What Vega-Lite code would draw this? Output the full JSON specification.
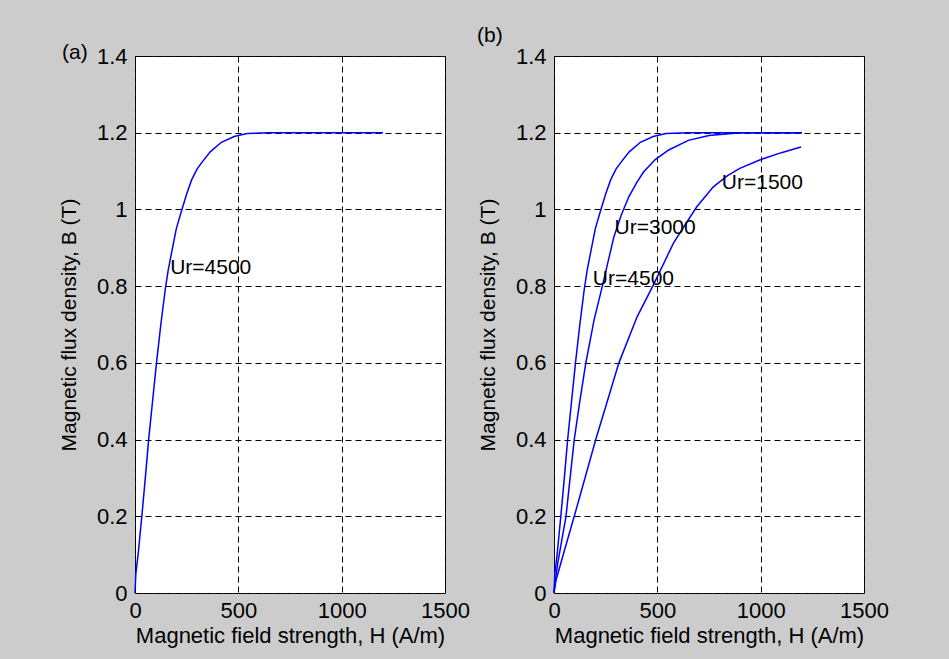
{
  "$schema": "https://vega.github.io/schema/vega-lite/v6.json",
  "background": "#cccccc",
  "padding": {"left": 57, "top": 24, "right": 80, "bottom": 30},
  "datasets": {
    "curves": [
      {"ur": 4500, "H": 0, "B": 0}, {"ur": 4500, "H": 4, "B": 0.05}, {"ur": 4500, "H": 15, "B": 0.1}, {"ur": 4500, "H": 33, "B": 0.2},
      {"ur": 4500, "H": 50, "B": 0.3}, {"ur": 4500, "H": 66, "B": 0.4}, {"ur": 4500, "H": 85, "B": 0.5}, {"ur": 4500, "H": 104, "B": 0.6},
      {"ur": 4500, "H": 125, "B": 0.7}, {"ur": 4500, "H": 146, "B": 0.79}, {"ur": 4500, "H": 160, "B": 0.84}, {"ur": 4500, "H": 178, "B": 0.89},
      {"ur": 4500, "H": 200, "B": 0.95}, {"ur": 4500, "H": 227, "B": 1.0}, {"ur": 4500, "H": 250, "B": 1.04}, {"ur": 4500, "H": 274, "B": 1.077},
      {"ur": 4500, "H": 300, "B": 1.105}, {"ur": 4500, "H": 320, "B": 1.12}, {"ur": 4500, "H": 364, "B": 1.15}, {"ur": 4500, "H": 418, "B": 1.175},
      {"ur": 4500, "H": 480, "B": 1.19}, {"ur": 4500, "H": 542, "B": 1.198}, {"ur": 4500, "H": 650, "B": 1.2}, {"ur": 4500, "H": 800, "B": 1.2},
      {"ur": 4500, "H": 1200, "B": 1.2},
      {"ur": 3000, "H": 0, "B": 0}, {"ur": 3000, "H": 6, "B": 0.03}, {"ur": 3000, "H": 18, "B": 0.077}, {"ur": 3000, "H": 58, "B": 0.2},
      {"ur": 3000, "H": 78, "B": 0.3}, {"ur": 3000, "H": 98, "B": 0.4}, {"ur": 3000, "H": 125, "B": 0.5}, {"ur": 3000, "H": 154, "B": 0.6},
      {"ur": 3000, "H": 194, "B": 0.712}, {"ur": 3000, "H": 234, "B": 0.8}, {"ur": 3000, "H": 260, "B": 0.86}, {"ur": 3000, "H": 290, "B": 0.929},
      {"ur": 3000, "H": 325, "B": 0.985}, {"ur": 3000, "H": 362, "B": 1.033}, {"ur": 3000, "H": 400, "B": 1.07}, {"ur": 3000, "H": 434, "B": 1.098},
      {"ur": 3000, "H": 490, "B": 1.13}, {"ur": 3000, "H": 555, "B": 1.155}, {"ur": 3000, "H": 650, "B": 1.18}, {"ur": 3000, "H": 750, "B": 1.193},
      {"ur": 3000, "H": 900, "B": 1.2}, {"ur": 3000, "H": 1200, "B": 1.2},
      {"ur": 1500, "H": 0, "B": 0}, {"ur": 1500, "H": 10, "B": 0.034}, {"ur": 1500, "H": 50, "B": 0.11}, {"ur": 1500, "H": 98, "B": 0.2},
      {"ur": 1500, "H": 150, "B": 0.3}, {"ur": 1500, "H": 202, "B": 0.4}, {"ur": 1500, "H": 258, "B": 0.5}, {"ur": 1500, "H": 314, "B": 0.6},
      {"ur": 1500, "H": 402, "B": 0.72}, {"ur": 1500, "H": 478, "B": 0.8}, {"ur": 1500, "H": 578, "B": 0.912}, {"ur": 1500, "H": 640, "B": 0.965},
      {"ur": 1500, "H": 691, "B": 1.007}, {"ur": 1500, "H": 771, "B": 1.059}, {"ur": 1500, "H": 840, "B": 1.088}, {"ur": 1500, "H": 899, "B": 1.107},
      {"ur": 1500, "H": 995, "B": 1.129}, {"ur": 1500, "H": 1100, "B": 1.148}, {"ur": 1500, "H": 1195, "B": 1.163}
    ],
    "labels": [
      {"panel": "a", "H": 170, "B": 0.847, "label": "Ur=4500"},
      {"panel": "b", "H": 812, "B": 1.069, "label": "Ur=1500"},
      {"panel": "b", "H": 293, "B": 0.951, "label": "Ur=3000"},
      {"panel": "b", "H": 188, "B": 0.819, "label": "Ur=4500"}
    ]
  },
  "config": {
    "font": "Liberation Sans",
    "view": {"fill": "white", "stroke": "#111", "strokeWidth": 1},
    "axis": {
      "grid": true, "gridColor": "#000", "gridDash": [6, 4], "gridOpacity": 1, "gridWidth": 1,
      "domain": false, "ticks": false, "labelFlush": false,
      "labelFont": "Liberation Sans", "labelFontSize": 22, "labelColor": "#000",
      "titleFont": "Liberation Sans", "titleFontSize": 21, "titleColor": "#000", "titleFontWeight": "normal"
    },
    "axisX": {"labelPadding": 7, "titlePadding": 4, "titleFontSize": 22},
    "axisY": {"labelPadding": 8, "titlePadding": 17},
    "title": {"font": "Liberation Sans", "fontSize": 21, "fontWeight": "normal", "color": "#000", "anchor": "start", "frame": "group"}
  },
  "bounds": "flush",
  "spacing": 109,
  "hconcat": [
    {
      "width": 310, "height": 537,
      "title": {"text": "(a)", "dx": -73, "offset": -18},
      "layer": [
        {
          "data": {"name": "curves"},
          "transform": [{"filter": "datum.ur == 4500"}],
          "mark": {"type": "line", "color": "#0000ff", "strokeWidth": 1.5},
          "encoding": {
            "x": {"field": "H", "type": "quantitative", "scale": {"domain": [0, 1500], "nice": false}, "axis": {"values": [0, 500, 1000, 1500], "format": "d", "title": "Magnetic field strength, H (A/m)"}},
            "y": {"field": "B", "type": "quantitative", "scale": {"domain": [0, 1.4], "nice": false}, "axis": {"values": [0, 0.2, 0.4, 0.6, 0.8, 1, 1.2, 1.4], "format": "~g", "title": "Magnetic flux density, B (T)"}},
            "detail": {"field": "ur"}
          }
        },
        {
          "data": {"name": "labels"},
          "transform": [{"filter": "datum.panel == 'a'"}],
          "mark": {"type": "text", "align": "left", "baseline": "middle", "fontSize": 21, "color": "#000"},
          "encoding": {
            "x": {"field": "H", "type": "quantitative"},
            "y": {"field": "B", "type": "quantitative"},
            "text": {"field": "label"}
          }
        }
      ]
    },
    {
      "width": 310, "height": 537,
      "title": {"text": "(b)", "dx": -77, "offset": -1},
      "layer": [
        {
          "data": {"name": "curves"},
          "mark": {"type": "line", "color": "#0000ff", "strokeWidth": 1.5},
          "encoding": {
            "x": {"field": "H", "type": "quantitative", "scale": {"domain": [0, 1500], "nice": false}, "axis": {"values": [0, 500, 1000, 1500], "format": "d", "title": "Magnetic field strength, H (A/m)"}},
            "y": {"field": "B", "type": "quantitative", "scale": {"domain": [0, 1.4], "nice": false}, "axis": {"values": [0, 0.2, 0.4, 0.6, 0.8, 1, 1.2, 1.4], "format": "~g", "title": "Magnetic flux density, B (T)"}},
            "detail": {"field": "ur"}
          }
        },
        {
          "data": {"name": "labels"},
          "transform": [{"filter": "datum.panel == 'b'"}],
          "mark": {"type": "text", "align": "left", "baseline": "middle", "fontSize": 21, "color": "#000"},
          "encoding": {
            "x": {"field": "H", "type": "quantitative"},
            "y": {"field": "B", "type": "quantitative"},
            "text": {"field": "label"}
          }
        }
      ]
    }
  ]
}
